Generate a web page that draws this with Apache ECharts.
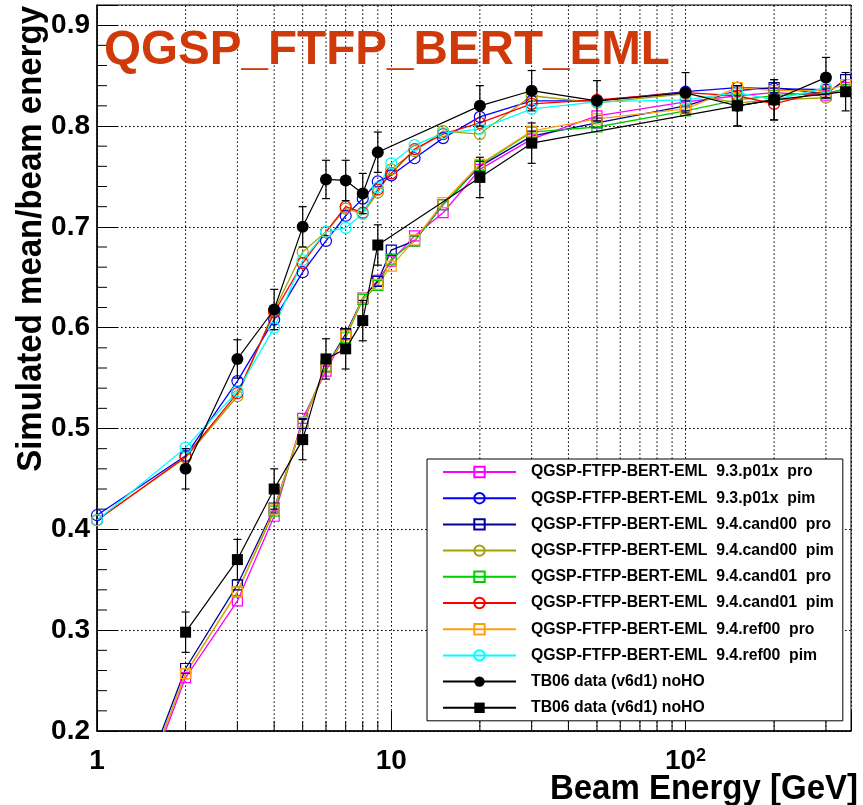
<!DOCTYPE html>
<html>
<head>
<meta charset="utf-8">
<script src="https://cdn.jsdelivr.net/npm/echarts@6/dist/echarts.min.js"></script>
<style>
  html, body { margin: 0; padding: 0; background: #fff; }
  #chart { width: 863px; height: 805px; }
</style>
</head>
<body>
<div id="chart"></div>
<script>
// beam energies (GeV)
const energyPim = [1, 2, 3, 4, 5, 6, 7, 8, 9, 10, 12, 15, 20, 30, 50, 100, 150, 200, 300];
const energyPro = [1, 2, 3, 4, 5, 6, 7, 8, 9, 10, 12, 15, 20, 30, 50, 100, 150, 200, 300, 350];

// simulation, protons
const p01xPro   = [0.020, 0.253, 0.329, 0.413, 0.510, 0.557, 0.593, 0.629, 0.647, 0.666, 0.691, 0.714, 0.757, 0.787, 0.810, 0.824, 0.830, 0.833, 0.830, 0.838];
const cand00Pro = [0.030, 0.262, 0.345, 0.421, 0.505, 0.561, 0.594, 0.629, 0.646, 0.677, 0.686, 0.722, 0.760, 0.790, 0.803, 0.820, 0.835, 0.838, 0.832, 0.846];
const cand01Pro = [0.025, 0.257, 0.338, 0.418, 0.506, 0.562, 0.590, 0.628, 0.642, 0.668, 0.686, 0.722, 0.761, 0.794, 0.799, 0.815, 0.826, 0.830, 0.833, 0.836];
const ref00Pro  = [0.025, 0.257, 0.338, 0.420, 0.506, 0.560, 0.592, 0.629, 0.643, 0.661, 0.687, 0.724, 0.762, 0.795, 0.807, 0.817, 0.838, 0.835, 0.835, 0.841];

// simulation, pions
const p01xPim   = [0.414, 0.473, 0.547, 0.608, 0.655, 0.686, 0.711, 0.728, 0.745, 0.751, 0.768, 0.788, 0.809, 0.825, 0.825, 0.834, 0.838, 0.837, 0.836];
const cand00Pim = [0.409, 0.471, 0.532, 0.617, 0.675, 0.695, 0.718, 0.713, 0.734, 0.757, 0.775, 0.795, 0.792, 0.830, 0.823, 0.832, 0.823, 0.826, 0.828];
const cand01Pim = [0.409, 0.472, 0.535, 0.615, 0.664, 0.695, 0.720, 0.714, 0.737, 0.753, 0.777, 0.792, 0.803, 0.822, 0.826, 0.833, 0.830, 0.822, 0.835];
const ref00Pim  = [0.409, 0.481, 0.537, 0.600, 0.667, 0.695, 0.699, 0.713, 0.739, 0.763, 0.781, 0.793, 0.797, 0.817, 0.824, 0.826, 0.833, 0.826, 0.838];

// TB06 data
const tbPimE   = [2, 3, 4, 5, 6, 7, 8, 9, 20, 30, 50, 100, 150, 200, 300];
const tbPim    = [0.460, 0.569, 0.618, 0.700, 0.747, 0.746, 0.733, 0.774, 0.820, 0.835, 0.825, 0.833, 0.820, 0.826, 0.848];
const tbPimErr = [0.020, 0.019, 0.020, 0.020, 0.019, 0.020, 0.020, 0.020, 0.020, 0.020, 0.020, 0.020, 0.020, 0.020, 0.020];
const tbProE   = [2, 3, 4, 5, 6, 7, 8, 9, 20, 30, 150, 200, 350];
const tbPro    = [0.298, 0.370, 0.440, 0.489, 0.569, 0.579, 0.607, 0.682, 0.749, 0.783, 0.820, 0.826, 0.834];
const tbProErr = [0.020, 0.020, 0.020, 0.020, 0.020, 0.020, 0.020, 0.020, 0.020, 0.020, 0.020, 0.020, 0.019];

// axis ticks
const xMinorTicks = [2, 3, 4, 5, 6, 7, 8, 9, 20, 30, 40, 50, 60, 70, 80, 90, 200, 300];
const yMinorTicks = [];
for (let i = 11; i < 46; i++) { if (i % 5 !== 0) yMinorTicks.push(i / 50); }

const names = [
  'QGSP-FTFP-BERT-EML  9.3.p01x  pro',
  'QGSP-FTFP-BERT-EML  9.3.p01x  pim',
  'QGSP-FTFP-BERT-EML  9.4.cand00  pro',
  'QGSP-FTFP-BERT-EML  9.4.cand00  pim',
  'QGSP-FTFP-BERT-EML  9.4.cand01  pro',
  'QGSP-FTFP-BERT-EML  9.4.cand01  pim',
  'QGSP-FTFP-BERT-EML  9.4.ref00  pro',
  'QGSP-FTFP-BERT-EML  9.4.ref00  pim',
  'TB06 data (v6d1) noHO',
  'TB06 data (v6d1) noHO '
];

const FONT = '"Liberation Sans", Arial, Helvetica, sans-serif';
const zip = (xs, ys) => xs.map((x, i) => [x, ys[i]]);

function simSeries(name, xs, ys, color, isSquare) {
  return {
    name: name,
    type: 'line',
    data: zip(xs, ys),
    symbol: isSquare ? 'rect' : 'circle',
    symbolSize: isSquare ? 10 : 11,
    lineStyle: { color: color, width: 1.3 },
    itemStyle: { color: 'transparent', borderColor: color, borderWidth: 1.2 },
    emphasis: { disabled: true },
    clip: true,
    z: 3
  };
}

function dataSeries(name, xs, ys, isSquare) {
  return {
    name: name,
    type: 'line',
    data: zip(xs, ys),
    symbol: isSquare ? 'rect' : 'circle',
    symbolSize: isSquare ? 11 : 12,
    lineStyle: { color: '#000', width: 1.2 },
    itemStyle: { color: '#000' },
    emphasis: { disabled: true },
    clip: true,
    z: 4
  };
}

function errorSeries(xs, ys, es) {
  return {
    type: 'custom',
    data: xs.map((x, i) => [x, ys[i], es[i]]),
    encode: { x: 0, y: 1 },
    clip: true,
    z: 4,
    silent: true,
    renderItem: function (params, api) {
      const x = api.value(0), y = api.value(1), e = api.value(2);
      const top = api.coord([x, y + e]);
      const bot = api.coord([x, y - e]);
      const st = { stroke: '#000', lineWidth: 1.2 };
      return {
        type: 'group',
        children: [
          { type: 'line', shape: { x1: top[0], y1: top[1], x2: bot[0], y2: bot[1] }, style: st },
          { type: 'line', shape: { x1: top[0] - 4, y1: top[1], x2: top[0] + 4, y2: top[1] }, style: st },
          { type: 'line', shape: { x1: bot[0] - 4, y1: bot[1], x2: bot[0] + 4, y2: bot[1] }, style: st }
        ]
      };
    }
  };
}

const dotted = { color: '#000', width: 1, type: [1.6, 2.4] };

const chart = echarts.init(document.getElementById('chart'), null, { renderer: 'canvas' });

chart.setOption({
  animation: false,
  backgroundColor: '#fff',
  grid: {
    left: 97, right: 12, top: 5, bottom: 74,
    show: true, borderColor: '#000', borderWidth: 1, backgroundColor: 'transparent'
  },
  xAxis: {
    type: 'log',
    logBase: 10,
    min: 1,
    max: 365,
    axisLine: { show: true, lineStyle: { color: '#000', width: 1.5 } },
    axisTick: { show: true, inside: true, length: 20, lineStyle: { color: '#000', width: 1 } },
    splitLine: { show: true, lineStyle: dotted },
    axisLabel: {
      margin: 16,
      formatter: function (v) {
        if (Math.abs(v - 1) < 1e-6) return '{b|1}';
        if (Math.abs(v - 10) < 1e-6) return '{b|10}';
        if (Math.abs(v - 100) < 1e-6) return '{b|10}{s|2}';
        return '';
      },
      rich: {
        b: { fontFamily: FONT, fontWeight: 'bold', fontSize: 28, color: '#000', verticalAlign: 'bottom' },
        s: { fontFamily: FONT, fontWeight: 'bold', fontSize: 18, color: '#000', verticalAlign: 'top' }
      }
    }
  },
  yAxis: {
    type: 'value',
    min: 0.2,
    max: 0.92,
    interval: 0.1,
    axisLine: { show: true, lineStyle: { color: '#000', width: 1.5 } },
    axisTick: { show: true, inside: true, length: 20, lineStyle: { color: '#000', width: 1 } },
    splitLine: { show: true, lineStyle: dotted },
    axisLabel: {
      margin: 7,
      fontFamily: FONT, fontWeight: 'bold', fontSize: 28, color: '#000',
      formatter: function (v) {
        const r = Math.round(v * 10) / 10;
        return Math.abs(v - r) < 1e-6 ? r.toFixed(1) : '';
      }
    }
  },
  legend: {
    orient: 'vertical',
    left: 427,
    top: 459,
    padding: [5, 9, 5, 15],
    itemGap: 10.2,
    itemWidth: 73,
    itemHeight: 13,
    backgroundColor: '#fff',
    borderColor: '#000',
    borderWidth: 1,
    selectedMode: false,
    textStyle: { fontFamily: FONT, fontWeight: 'bold', fontSize: 15.8, color: '#000', padding: [0, 0, 0, 10] },
    data: names
  },
  graphic: [
    {
      type: 'text', x: 104, y: 51, z: 100,
      style: { text: 'QGSP_FTFP_BERT_EML', fill: '#d03a0a', font: 'bold 47.6px ' + FONT, align: 'left', verticalAlign: 'middle' }
    },
    {
      type: 'text', x: 31, y: 6, rotation: Math.PI / 2, scaleY: 1.08, z: 100,
      style: { text: 'Simulated mean/beam energy', fill: '#000', font: 'bold 33px ' + FONT, align: 'right', verticalAlign: 'middle' }
    },
    {
      type: 'text', x: 858, y: 789, scaleY: 1.08, z: 100,
      style: { text: 'Beam Energy [GeV]', fill: '#000', font: 'bold 33px ' + FONT, align: 'right', verticalAlign: 'middle' }
    }
  ],
  series: [
    // dotted minor grid lines on the log axis and short minor ticks
    {
      type: 'custom',
      data: xMinorTicks.map(v => [v]),
      encode: { x: 0 },
      silent: true,
      z: 1,
      renderItem: function (params, api) {
        const b = api.coord([api.value(0), 0.2]);
        const t = api.coord([api.value(0), 0.92]);
        return {
          type: 'group',
          children: [
            { type: 'line', shape: { x1: b[0], y1: b[1], x2: t[0], y2: t[1] }, style: { stroke: '#000', lineWidth: 1, lineDash: [1.6, 2.4] } },
            { type: 'line', shape: { x1: b[0], y1: b[1], x2: b[0], y2: b[1] - 10 }, style: { stroke: '#000', lineWidth: 1 } }
          ]
        };
      }
    },
    {
      type: 'custom',
      data: yMinorTicks.map(v => [1, v]),
      encode: { x: 0, y: 1 },
      silent: true,
      z: 1,
      renderItem: function (params, api) {
        const p = api.coord([1, api.value(1)]);
        return { type: 'line', shape: { x1: p[0], y1: p[1], x2: p[0] + 10, y2: p[1] }, style: { stroke: '#000', lineWidth: 1 } };
      }
    },
    simSeries(names[0], energyPro, p01xPro, '#ff00ff', true),
    simSeries(names[1], energyPim, p01xPim, '#0000ff', false),
    simSeries(names[2], energyPro, cand00Pro, '#000099', true),
    simSeries(names[3], energyPim, cand00Pim, '#a3a300', false),
    simSeries(names[4], energyPro, cand01Pro, '#00cc00', true),
    simSeries(names[5], energyPim, cand01Pim, '#ff0000', false),
    simSeries(names[6], energyPro, ref00Pro, '#ff9f10', true),
    simSeries(names[7], energyPim, ref00Pim, '#00ffff', false),
    errorSeries(tbProE, tbPro, tbProErr),
    errorSeries(tbPimE, tbPim, tbPimErr),
    dataSeries(names[9], tbProE, tbPro, true),
    dataSeries(names[8], tbPimE, tbPim, false)
  ]
});
</script>
</body>
</html>
